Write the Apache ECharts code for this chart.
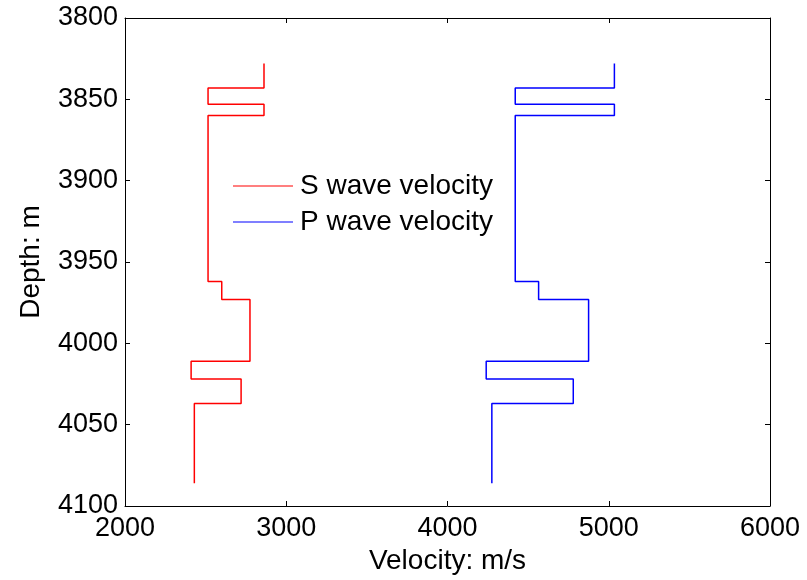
<!DOCTYPE html>
<html>
<head>
<meta charset="utf-8">
<script src="https://cdn.jsdelivr.net/npm/echarts@6/dist/echarts.min.js"></script>
<style>
html, body { margin: 0; padding: 0; background: #fff; }
#main { width: 807px; height: 580px; }
</style>
</head>
<body>
<div id="main"></div>
<script>
// layer boundaries (depth, m) and velocities per layer (m/s)
var layerTop = [3828, 3843, 3853, 3860, 3962, 3973, 4011, 4022, 4037];
var layerBottom = [3843, 3853, 3860, 3962, 3973, 4011, 4022, 4037, 4086];
var sWave = [2862, 2515, 2862, 2515, 2600, 2775, 2410, 2720, 2430];
var pWave = [5035, 4420, 5035, 4420, 4565, 4875, 4240, 4780, 4275];
var xTicks = [2000, 3000, 4000, 5000, 6000];
var yTicks = [3800, 3850, 3900, 3950, 4000, 4050, 4100];

function stepPoints(vel) {
    var pts = [];
    for (var i = 0; i < vel.length; i++) {
        pts.push([vel[i], layerTop[i]]);
        pts.push([vel[i], layerBottom[i]]);
    }
    return pts;
}

var font = "'Liberation Sans', Arial, sans-serif";
var axisCommon = {
    axisLine: { show: true, lineStyle: { color: '#000', width: 1 } },
    axisTick: { show: true, inside: true, length: 5, lineStyle: { color: '#000' } },
    splitLine: { show: false }
};
var plain = function (v) { return String(v); };

var myChart = echarts.init(document.getElementById('main'));
var option = {
    backgroundColor: '#fff',
    animation: false,
    grid: { left: 125, top: 18, right: 37, bottom: 74 },
    legend: {
        left: 233,
        top: 171,
        padding: 0,
        orient: 'vertical',
        icon: 'rect',
        itemWidth: 60,
        itemHeight: 1,
        itemGap: 6,
        textStyle: { fontFamily: font, fontSize: 28, color: '#000', lineHeight: 30, padding: [0, 0, 0, 2] },
        data: ['S wave velocity', 'P wave velocity']
    },
    xAxis: [
        Object.assign({
            type: 'value',
            min: xTicks[0],
            max: xTicks[xTicks.length - 1],
            interval: 1000,
            position: 'bottom',
            name: 'Velocity: m/s',
            nameLocation: 'middle',
            nameGap: 40,
            nameTextStyle: { fontFamily: font, fontSize: 28, color: '#000' },
            axisLabel: { fontFamily: font, fontSize: 27, color: '#000', margin: 9, formatter: plain }
        }, axisCommon),
        Object.assign({
            type: 'value',
            min: xTicks[0],
            max: xTicks[xTicks.length - 1],
            interval: 1000,
            position: 'top',
            axisLabel: { show: false }
        }, axisCommon)
    ],
    yAxis: [
        Object.assign({
            type: 'value',
            inverse: true,
            min: yTicks[0],
            max: yTicks[yTicks.length - 1],
            interval: 50,
            position: 'left',
            name: 'Depth: m',
            nameLocation: 'middle',
            nameGap: 80,
            nameTextStyle: { fontFamily: font, fontSize: 28, color: '#000' },
            axisLabel: { fontFamily: font, fontSize: 27, color: '#000', margin: 7, formatter: plain }
        }, axisCommon),
        Object.assign({
            type: 'value',
            inverse: true,
            min: yTicks[0],
            max: yTicks[yTicks.length - 1],
            interval: 50,
            position: 'right',
            axisLabel: { show: false }
        }, axisCommon)
    ],
    series: [
        {
            name: 'S wave velocity',
            type: 'line',
            symbol: 'none',
            color: '#ff0000',
            lineStyle: { color: '#ff0000', width: 1.5 },
            data: stepPoints(sWave)
        },
        {
            name: 'P wave velocity',
            type: 'line',
            symbol: 'none',
            color: '#0000ff',
            lineStyle: { color: '#0000ff', width: 1.5 },
            data: stepPoints(pWave)
        }
    ]
};
myChart.setOption(option);
</script>
</body>
</html>
